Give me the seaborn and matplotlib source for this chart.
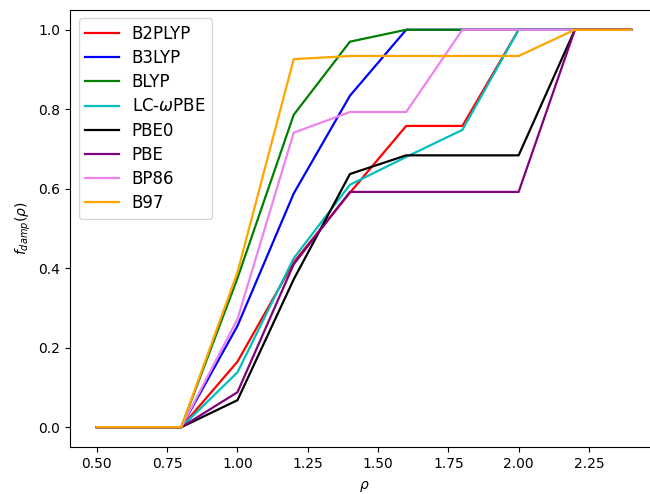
import numpy as np
import pandas as pd
import matplotlib
matplotlib.use("Agg")
import matplotlib.pyplot as plt
import seaborn as sns

rho = [0.5, 0.8, 1.0, 1.2, 1.4, 1.6, 1.8, 2.0, 2.2, 2.4]

b2plyp = [0.0, 0.0, 0.165, 0.415, 0.59, 0.758, 0.758, 1.0, 1.0, 1.0]
b3lyp  = [0.0, 0.0, 0.255, 0.588, 0.834, 1.0, 1.0, 1.0, 1.0, 1.0]
blyp   = [0.0, 0.0, 0.375, 0.786, 0.970, 1.0, 1.0, 1.0, 1.0, 1.0]
lcwpbe = [0.0, 0.0, 0.138, 0.425, 0.61, 0.68, 0.748, 1.0, 1.0, 1.0]
pbe0   = [0.0, 0.0, 0.068, 0.372, 0.637, 0.684, 0.684, 0.684, 1.0, 1.0]
pbe    = [0.0, 0.0, 0.088, 0.41, 0.592, 0.592, 0.592, 0.592, 1.0, 1.0]
bp86   = [0.0, 0.0, 0.272, 0.741, 0.793, 0.793, 1.0, 1.0, 1.0, 1.0]
b97    = [0.0, 0.0, 0.39, 0.926, 0.934, 0.934, 0.934, 0.934, 1.0, 1.0]

labels = ["B2PLYP", "B3LYP", "BLYP", r"LC-$\omega$PBE", "PBE0", "PBE", "BP86", "B97"]
series = [b2plyp, b3lyp, blyp, lcwpbe, pbe0, pbe, bp86, b97]
colors = ["red", "blue", "green", "c", "black", "purple", "violet", "orange"]

rows = []
for lab, vals in zip(labels, series):
    for x, y in zip(rho, vals):
        rows.append({"rho": x, "f": y, "method": lab})
df = pd.DataFrame(rows)

plt.rcParams["font.family"] = ["DejaVu Sans"]
fig, ax = plt.subplots(figsize=(6.5, 4.94), dpi=100)
fig.subplots_adjust(left=0.108, right=1.012, top=0.98, bottom=0.095)

sns.lineplot(data=df, x="rho", y="f", hue="method", hue_order=labels,
             palette=dict(zip(labels, colors)), sort=False, linewidth=1.6,
             estimator=None, ax=ax)

ax.set_xlabel(r"$\rho$", labelpad=6)
ax.set_ylabel(r"$f_{damp}(\rho)$")
ax.legend(loc="upper left", fontsize=12, labelspacing=0.37)
fig.savefig("out.png", dpi=100)
